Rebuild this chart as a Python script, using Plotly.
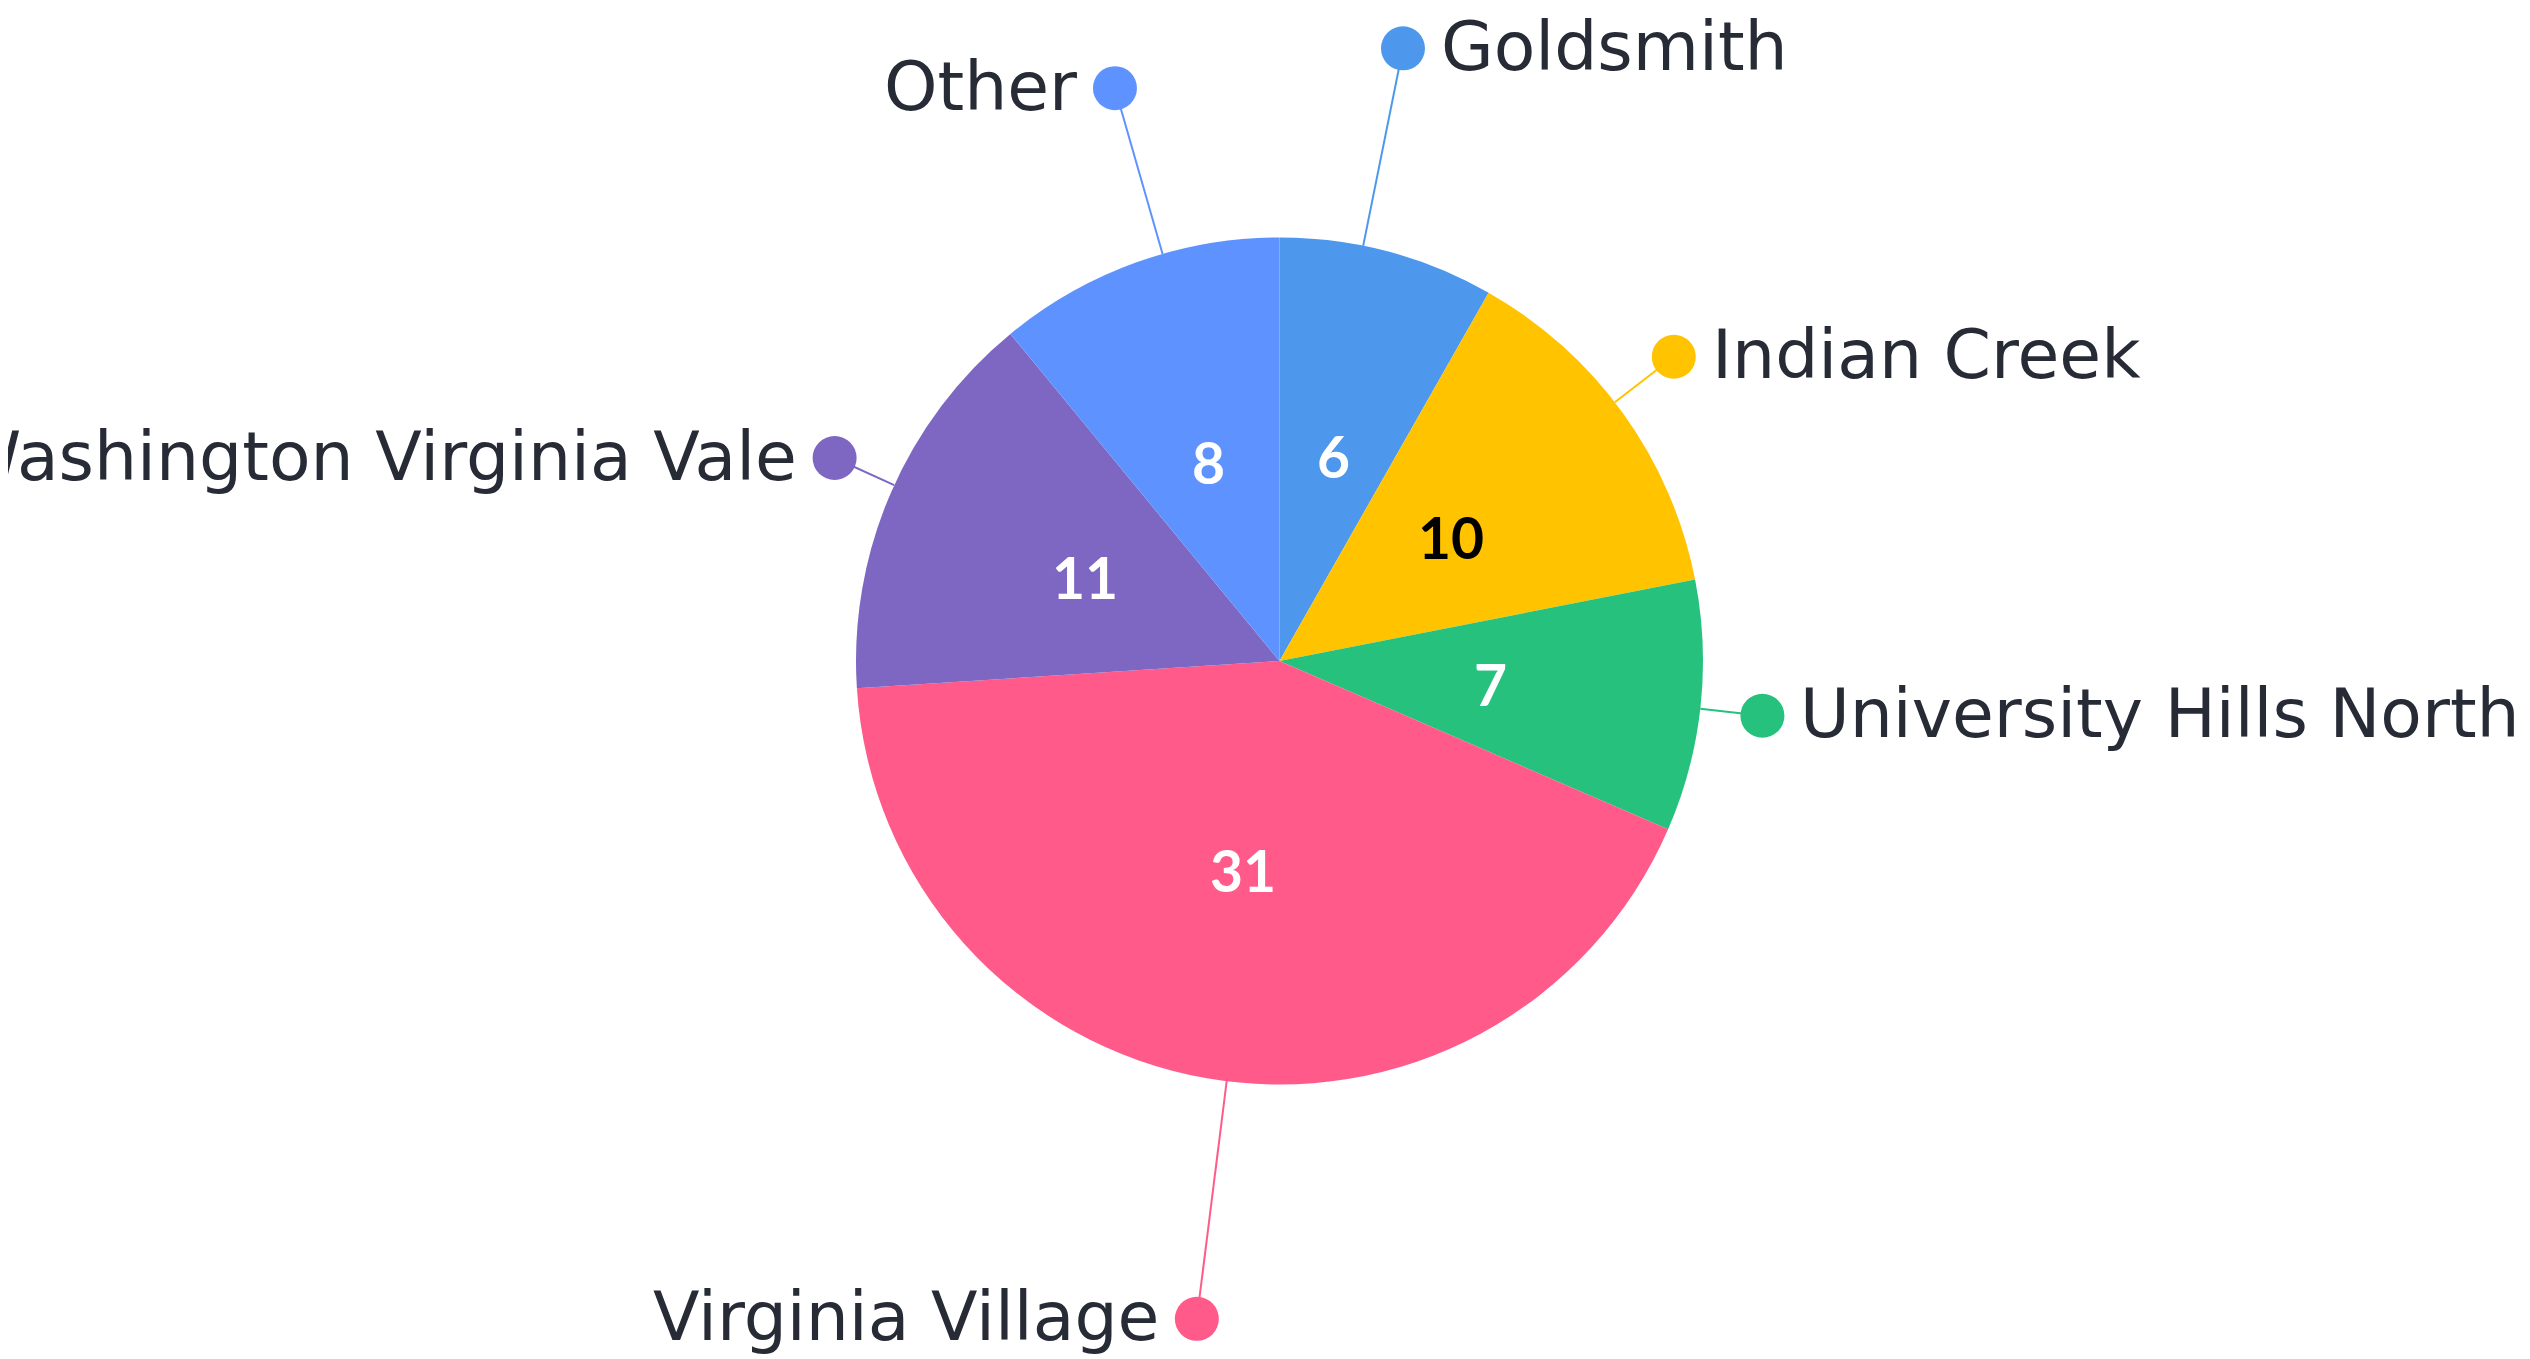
import math
import plotly.graph_objects as go

# ---- data ----
labels = ["Goldsmith", "Indian Creek", "University Hills North",
          "Virginia Village", "Washington Virginia Vale", "Other"]
values = [6, 10, 7, 31, 11, 8]

# ---- styles ----
colors = ["#4D98EC", "#FFC300", "#26C27D", "#FF5A8A", "#7D67C2", "#5E93FF"]
value_text_colors = ["#FFFFFF", "#000000", "#FFFFFF", "#FFFFFF", "#FFFFFF", "#FFFFFF"]
label_radius = [625, 498, 486, 663, 489, 596]        # px from centre
label_nudge_deg = [-3.4, -1.9, 0.3, -2.7, 1.1, 3.7]  # label angle offset

W, H = 2530, 1359
cx, cy, R = 1271.5, 653.0, 423.5
dot_r = 22
text_gap = 14

def px(x):
    return x / W

def py(y):
    return 1 - y / H

fig = go.Figure(go.Pie(
    labels=labels, values=values, sort=False, direction="clockwise", rotation=0,
    marker=dict(colors=colors, line=dict(width=0)),
    textinfo="none", hoverinfo="skip", showlegend=False,
    domain=dict(x=[px(cx - R), px(cx + R)], y=[py(cy + R), py(cy - R)]),
))

total = sum(values)
cum = 0
annotations = []
shapes = []
for i, (lab, v) in enumerate(zip(labels, values)):
    mid = (cum + v / 2) / total * 2 * math.pi
    cum += v
    # value label inside the slice
    vx = cx + 0.5 * R * math.sin(mid)
    vy = cy - 0.5 * R * math.cos(mid)
    annotations.append(dict(
        x=px(vx), y=py(vy), xref="paper", yref="paper", text=str(v),
        showarrow=False, xanchor="center", yanchor="middle",
        font=dict(family="Lato", size=57, color=value_text_colors[i], weight=700),
    ))
    # outer label
    a = mid + math.radians(label_nudge_deg[i])
    rl = label_radius[i]
    x0, y0 = cx + R * math.sin(a), cy - R * math.cos(a)
    dx, dy = cx + rl * math.sin(a), cy - rl * math.cos(a)
    shapes.append(dict(type="line", xref="paper", yref="paper",
                       x0=px(x0), y0=py(y0), x1=px(dx), y1=py(dy),
                       line=dict(color=colors[i], width=2), layer="below"))
    shapes.append(dict(type="circle", xref="paper", yref="paper",
                       x0=px(dx - dot_r), x1=px(dx + dot_r),
                       y0=py(dy + dot_r), y1=py(dy - dot_r),
                       fillcolor=colors[i], line=dict(width=0), layer="above"))
    right = math.sin(a) > 0
    annotations.append(dict(
        x=px(dx), y=py(dy), xref="paper", yref="paper", text=lab,
        showarrow=False, xanchor="left" if right else "right", yanchor="middle",
        xshift=(dot_r + text_gap) if right else -(dot_r + text_gap),
        yshift=2,
        font=dict(family="DejaVu Sans", size=68, color="#272B36"),
    ))

fig.update_layout(
    width=W, height=H, margin=dict(l=0, r=0, t=0, b=0),
    paper_bgcolor="white", plot_bgcolor="white",
    annotations=annotations, shapes=shapes,
)

fig.write_html("out.html")
